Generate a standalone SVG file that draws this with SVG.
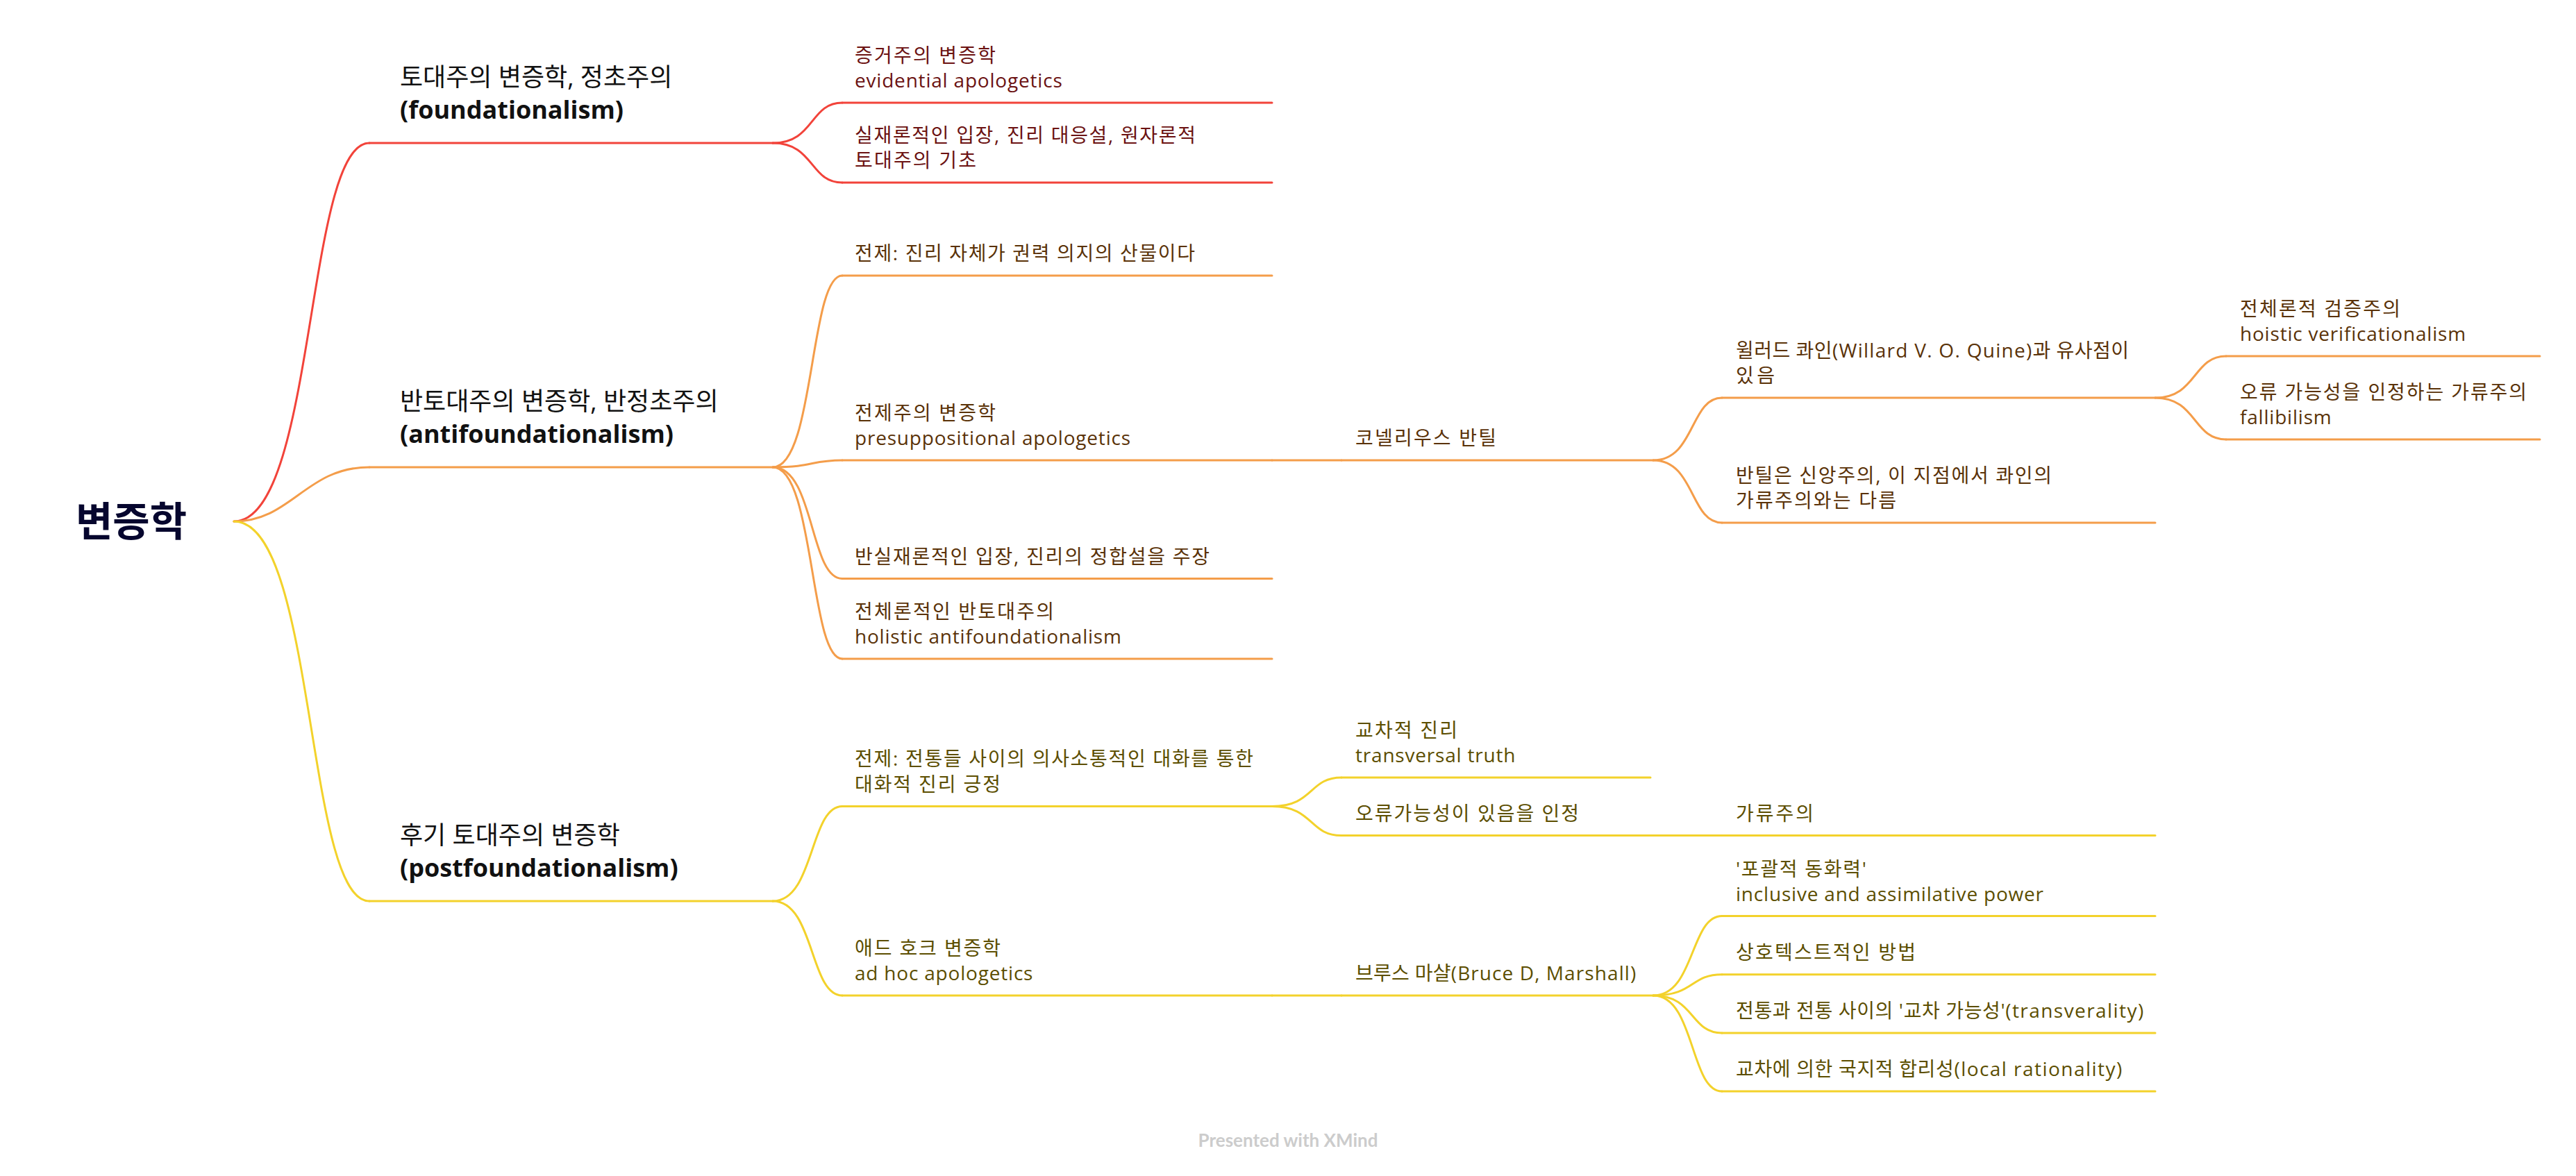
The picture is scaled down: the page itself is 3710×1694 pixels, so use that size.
<svg xmlns="http://www.w3.org/2000/svg" width="3710" height="1694" viewBox="0 0 3710 1694">
<style>
text{font-family:"Open Sans","Noto Sans CJK KR",sans-serif}
.root{font-size:58px;font-weight:700;fill:#06062E}
.l1{font-size:36px;fill:#111111}
.b{font-weight:700}
.t{font-size:28px}
.lat{letter-spacing:0.8px}
.tr{fill:#6B1212}
.to{fill:#5A3208}
.ty{fill:#5C4E00}
.r{stroke:#F2433A}
.o{stroke:#F49D4A}
.y{stroke:#F3D22B}
path,line{fill:none;stroke-width:3;stroke-linecap:round}
.wm{font-family:Lato,sans-serif;font-size:26px;font-weight:700;fill:#CCCCCC}
</style>
<rect width="3710" height="1694" fill="#FFFFFF"/>
<g id="connectors">
<path class="r" d="M337,751 C455,751 440,206 532,206"/>
<path class="o" d="M337,751 C420,751 440,673 532,673"/>
<path class="y" d="M337,751 C455,751 440,1298 532,1298"/>
<path class="r" d="M1113,206 C1173,206 1166,148 1213,148"/>
<path class="r" d="M1113,206 C1173,206 1166,263 1213,263"/>
<path class="o" d="M1113,673 C1173,673 1166,397 1213,397"/>
<path class="o" d="M1113,673 C1173,673 1166,663 1213,663"/>
<path class="o" d="M1113,673 C1173,673 1166,833.5 1213,833.5"/>
<path class="o" d="M1113,673 C1173,673 1166,949 1213,949"/>
<path class="y" d="M1113,1298 C1173,1298 1166,1161.5 1213,1161.5"/>
<path class="y" d="M1113,1298 C1173,1298 1166,1434 1213,1434"/>
<path class="o" d="M1832,663 L1932,663"/>
<path class="y" d="M1832,1161.5 C1892,1161.5 1885,1120 1932,1120"/>
<path class="y" d="M1832,1161.5 C1892,1161.5 1885,1203.6 1932,1203.6"/>
<path class="y" d="M1832,1434 L1932,1434"/>
<path class="o" d="M2381,663 C2441,663 2434,573 2480,573"/>
<path class="o" d="M2381,663 C2441,663 2434,753 2480,753"/>
<path class="y" d="M2381,1203.6 L2480,1203.6"/>
<path class="y" d="M2381,1434 C2441,1434 2434,1319.5 2480,1319.5"/>
<path class="y" d="M2381,1434 C2441,1434 2434,1403.7 2480,1403.7"/>
<path class="y" d="M2381,1434 C2441,1434 2434,1488 2480,1488"/>
<path class="y" d="M2381,1434 C2441,1434 2434,1572 2480,1572"/>
<path class="o" d="M3104,573 C3164,573 3158,513 3206,513"/>
<path class="o" d="M3104,573 C3164,573 3158,633 3206,633"/>
</g>
<g id="root"><text class="root" x="109" y="772">변증학</text></g>
<g id="n1"><line class="r" x1="532" y1="206" x2="1113" y2="206"/><text class="l1" x="576" y="124">토대주의 변증학, 정초주의</text><text class="l1 b" x="576" y="171">(foundationalism)</text></g>
<g id="n2"><line class="o" x1="532" y1="673" x2="1113" y2="673"/><text class="l1" x="576" y="591">반토대주의 변증학, 반정초주의</text><text class="l1 b" x="576" y="638">(antifoundationalism)</text></g>
<g id="n3"><line class="y" x1="532" y1="1298" x2="1113" y2="1298"/><text class="l1" x="576" y="1216">후기 토대주의 변증학</text><text class="l1 b" x="576" y="1263">(postfoundationalism)</text></g>
<g id="n1-1"><line class="r" x1="1213" y1="148" x2="1832" y2="148"/><text class="t tr" x="1231" y="90" textLength="203">증거주의 변증학</text><text class="t tr lat" x="1231" y="126">evidential apologetics</text></g>
<g id="n1-2"><line class="r" x1="1213" y1="263" x2="1832" y2="263"/><text class="t tr" x="1231" y="205" textLength="491">실재론적인 입장, 진리 대응설, 원자론적</text><text class="t tr" x="1231" y="241" textLength="175">토대주의 기초</text></g>
<g id="n2-1"><line class="o" x1="1213" y1="397" x2="1832" y2="397"/><text class="t to" x="1231" y="375" textLength="490">전제: 진리 자체가 권력 의지의 산물이다</text></g>
<g id="n2-2"><line class="o" x1="1213" y1="663" x2="1832" y2="663"/><text class="t to" x="1231" y="605" textLength="203">전제주의 변증학</text><text class="t to lat" x="1231" y="641">presuppositional apologetics</text></g>
<g id="n2-3"><line class="o" x1="1213" y1="833.5" x2="1832" y2="833.5"/><text class="t to" x="1231" y="812" textLength="511">반실재론적인 입장, 진리의 정합설을 주장</text></g>
<g id="n2-4"><line class="o" x1="1213" y1="949" x2="1832" y2="949"/><text class="t to" x="1231" y="891" textLength="287">전체론적인 반토대주의</text><text class="t to lat" x="1231" y="927">holistic antifoundationalism</text></g>
<g id="n2-2-1"><line class="o" x1="1932" y1="663" x2="2381" y2="663"/><text class="t to" x="1952" y="641" textLength="203">코넬리우스 반틸</text></g>
<g id="n2-2-1-1"><line class="o" x1="2480" y1="573" x2="3104" y2="573"/><text class="t to" x="2500" y="515" textLength="566">윌러드 콰인<tspan class="lat">(Willard V. O. Quine)</tspan>과 유사점이</text><text class="t to" x="2500" y="551" textLength="56">있음</text></g>
<g id="n2-2-1-2"><line class="o" x1="2480" y1="753" x2="3104" y2="753"/><text class="t to" x="2500" y="695" textLength="455">반틸은 신앙주의, 이 지점에서 콰인의</text><text class="t to" x="2500" y="731" textLength="231">가류주의와는 다름</text></g>
<g id="n2-2-1-1-1"><line class="o" x1="3206" y1="513" x2="3658" y2="513"/><text class="t to" x="3226" y="455" textLength="231">전체론적 검증주의</text><text class="t to lat" x="3226" y="491">hoistic verificationalism</text></g>
<g id="n2-2-1-1-2"><line class="o" x1="3206" y1="633" x2="3658" y2="633"/><text class="t to" x="3226" y="575" textLength="413">오류 가능성을 인정하는 가류주의</text><text class="t to lat" x="3226" y="611">fallibilism</text></g>
<g id="n3-1"><line class="y" x1="1213" y1="1161.5" x2="1832" y2="1161.5"/><text class="t ty" x="1231" y="1103" textLength="574">전제: 전통들 사이의 의사소통적인 대화를 통한</text><text class="t ty" x="1231" y="1139.5" textLength="210">대화적 진리 긍정</text></g>
<g id="n3-2"><line class="y" x1="1213" y1="1434" x2="1832" y2="1434"/><text class="t ty" x="1231" y="1376" textLength="210">애드 호크 변증학</text><text class="t ty lat" x="1231" y="1412">ad hoc apologetics</text></g>
<g id="n3-1-1"><line class="y" x1="1932" y1="1120" x2="2377" y2="1120"/><text class="t ty" x="1952" y="1062" textLength="147">교차적 진리</text><text class="t ty lat" x="1952" y="1098">transversal truth</text></g>
<g id="n3-1-2"><line class="y" x1="1932" y1="1203.6" x2="2381" y2="1203.6"/><text class="t ty" x="1952" y="1182" textLength="322">오류가능성이 있음을 인정</text></g>
<g id="n3-1-2-1"><line class="y" x1="2480" y1="1203.6" x2="3104" y2="1203.6"/><text class="t ty" x="2500" y="1182" textLength="112">가류주의</text></g>
<g id="n3-2-1"><line class="y" x1="1932" y1="1434" x2="2381" y2="1434"/><text class="t ty" x="1952" y="1412" textLength="405">브루스 마샬<tspan class="lat">(Bruce D, Marshall)</tspan></text></g>
<g id="n3-2-1-1"><line class="y" x1="2480" y1="1319.5" x2="3104" y2="1319.5"/><text class="t ty" x="2500" y="1261.5" textLength="188">'포괄적 동화력'</text><text class="t ty lat" x="2500" y="1297.5">inclusive and assimilative power</text></g>
<g id="n3-2-1-2"><line class="y" x1="2480" y1="1403.7" x2="3104" y2="1403.7"/><text class="t ty" x="2500" y="1382" textLength="259">상호텍스트적인 방법</text></g>
<g id="n3-2-1-3"><line class="y" x1="2480" y1="1488" x2="3104" y2="1488"/><text class="t ty" x="2500" y="1466" textLength="588">전통과 전통 사이의 '교차 가능성'<tspan class="lat">(transverality)</tspan></text></g>
<g id="n3-2-1-4"><line class="y" x1="2480" y1="1572" x2="3104" y2="1572"/><text class="t ty" x="2500" y="1550" textLength="557">교차에 의한 국지적 합리성<tspan class="lat">(local rationality)</tspan></text></g>
<text class="wm" x="1855" y="1652" text-anchor="middle">Presented with XMind</text>
</svg>
